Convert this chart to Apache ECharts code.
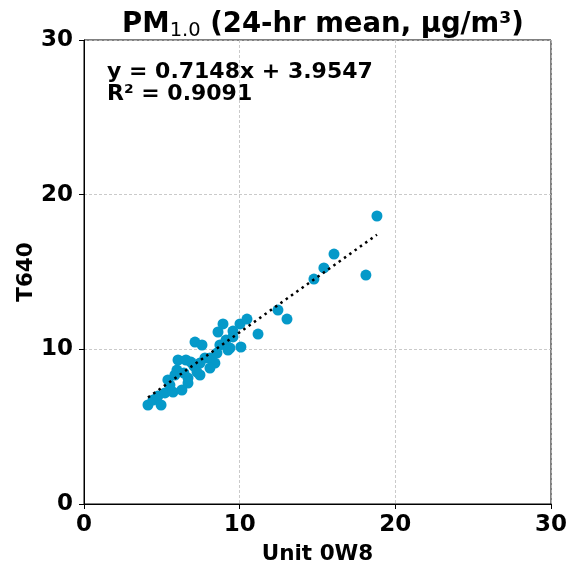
<!DOCTYPE html>
<html>
<head>
<meta charset="utf-8">
<script src="https://cdn.jsdelivr.net/npm/echarts@6/dist/echarts.min.js"></script>
<style>html,body{margin:0;padding:0;background:#fff}#c{width:569px;height:565px}</style>
</head>
<body>
<div id="c"></div>
<script>
// Data (Unit 0W8 vs T640, PM1.0 24-hr mean)
const unitX = [4.11,4.43,4.75,4.95,5.20,5.39,5.72,5.84,5.97,6.04,6.29,6.55,6.68,6.68,6.87,7.06,7.13,7.45,7.58,7.45,7.77,7.26,8.09,8.41,8.54,8.61,8.93,8.73,9.12,9.38,9.57,9.57,9.25,10.02,10.08,10.47,11.18,12.46,13.04,14.77,15.41,16.06,18.11,18.82,6.42,8.09,5.52];
const t640Y = [6.40,6.72,6.98,6.40,7.18,8.02,7.24,8.34,8.66,9.31,7.37,9.31,8.14,7.82,9.18,8.92,10.47,8.34,10.28,9.11,9.44,8.53,9.44,9.11,9.76,11.12,11.64,10.28,10.60,10.08,10.80,11.18,9.95,11.64,10.15,11.96,10.99,12.54,11.96,14.54,15.26,16.16,14.80,18.62,8.47,8.79,7.69];
const trendX = [4.11, 18.82];
const trendY = [6.89, 17.41];
const xTicks = [0, 10, 20, 30];
const yTicks = [0, 10, 20, 30];
const eqText = 'y = 0.7148x + 3.9547';
const r2Text = 'R² = 0.9091';

const font = 'DejaVu Sans';
const chart = echarts.init(document.getElementById('c'));
const axisCommon = {
  min: xTicks[0], max: xTicks[xTicks.length-1], interval: 10,
  axisLine: {show: true, onZero: false, lineStyle: {color: '#000', width: 1}},
  axisTick: {show: true, length: 5, lineStyle: {color: '#000'}},
  axisLabel: {color: '#000', fontFamily: font, fontWeight: 'bold', fontSize: 23},
  splitLine: {show: true, lineStyle: {color: '#bdbdbd', type: [3, 2], width: 0.8}},
  nameLocation: 'middle',
  nameMoveOverlap: false,
  nameTextStyle: {color: '#000', fontFamily: font, fontWeight: 'bold', fontSize: 21.5}
};
chart.setOption({
  animation: false,
  backgroundColor: '#fff',
  title: {
    text: '{b|PM}{s|1.0}{b| (24-hr mean, μg/m³)}',
    left: 318, top: 3, textAlign: 'center',
    textStyle: {rich: {
      b: {fontFamily: font, fontWeight: 'bold', fontSize: 27.5, color: '#000'},
      s: {fontFamily: font, fontWeight: 'normal', fontSize: 19.5, color: '#000', padding: [13, 0, 0, 0]}
    }}
  },
  grid: {left: 84, right: 18, top: 40, bottom: 61, show: true, borderColor: '#000', borderWidth: 1,
         containLabel: false, outerBoundsMode: 'none'},
  xAxis: Object.assign({}, axisCommon, {type: 'value', name: 'Unit 0W8', nameGap: 39, axisLabel: Object.assign({}, axisCommon.axisLabel, {margin: 10})}),
  yAxis: Object.assign({}, axisCommon, {type: 'value', min: yTicks[0], max: yTicks[yTicks.length-1], name: 'T640', nameGap: 47, axisLabel: Object.assign({}, axisCommon.axisLabel, {margin: 11})}),
  graphic: [
    {type: 'text', left: 107, top: 61, style: {text: eqText, fontFamily: font, fontWeight: 'bold', fontSize: 22, fill: '#000'}},
    {type: 'text', left: 107, top: 83, style: {text: r2Text, fontFamily: font, fontWeight: 'bold', fontSize: 22, fill: '#000'}}
  ],
  series: [
    {type: 'scatter', data: unitX.map((x, i) => [x, t640Y[i]]), symbolSize: 11,
     itemStyle: {color: '#0599c9', opacity: 1}, z: 2},
    {type: 'line', data: trendX.map((x, i) => [x, trendY[i]]), symbol: 'none',
     lineStyle: {color: '#000', width: 2.5, type: [2.5, 4]}, z: 3}
  ]
});
</script>
</body>
</html>
